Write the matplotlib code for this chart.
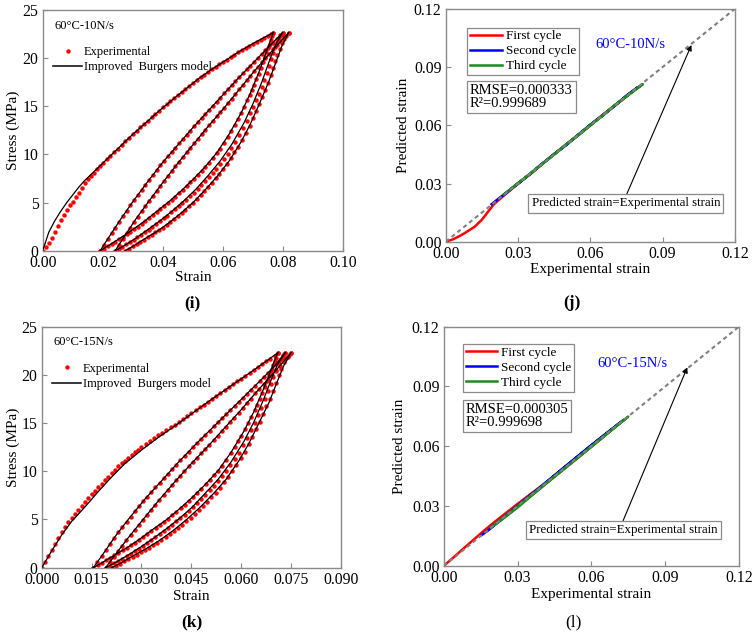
import matplotlib
matplotlib.use('Agg')
import matplotlib.pyplot as plt
from matplotlib.lines import Line2D

plt.rcParams['font.family'] = ['Liberation Serif', 'DejaVu Serif']

# ---------------- panel (i): 60°C-10N/s, stress-strain loops ----------------
# experimental points, one list pair per branch
i_load1_x = [0, 0.001, 0.002, 0.003, 0.004, 0.005, 0.006, 0.007, 0.008, 0.009, 0.010, 0.011,
             0.012, 0.013, 0.014, 0.015, 0.016, 0.017, 0.018, 0.019, 0.020, 0.02125, 0.0225,
             0.02375, 0.025, 0.02625, 0.0275, 0.02875, 0.030, 0.03125, 0.0325, 0.03375, 0.035,
             0.03625, 0.0375, 0.03875, 0.040, 0.04125, 0.0425, 0.04375, 0.045, 0.04625, 0.0475,
             0.04875, 0.050, 0.05125, 0.0525, 0.05375, 0.055, 0.05625, 0.0575, 0.05875, 0.060,
             0.06125, 0.0625, 0.06375, 0.065, 0.06625, 0.0675, 0.06875, 0.070, 0.07125, 0.0725,
             0.07375, 0.075, 0.0758, 0.0767]
i_load1_y = [0, 0.35, 0.8, 1.35, 1.9, 2.55, 3.2, 3.75, 4.25, 4.7, 5.1, 5.6,
             6.0, 6.5, 7.0, 7.4, 7.8, 8.1, 8.5, 8.8, 9.1, 9.48, 9.85,
             10.23, 10.6, 10.98, 11.35, 11.73, 12.1, 12.45, 12.8, 13.15, 13.5,
             13.85, 14.2, 14.55, 14.9, 15.2, 15.5, 15.83, 16.15, 16.48, 16.8,
             17.1, 17.4, 17.7, 18.0, 18.28, 18.55, 18.83, 19.1, 19.35, 19.6,
             19.85, 20.1, 20.35, 20.6, 20.83, 21.05, 21.28, 21.5, 21.7, 21.9,
             22.13, 22.35, 22.5, 22.65]
i_unl1_x = [0.0191, 0.0204, 0.0216, 0.0229, 0.0241, 0.0254, 0.0266, 0.0279, 0.0291, 0.0304,
            0.0316, 0.0329, 0.0341, 0.0354, 0.0366, 0.0379, 0.0391, 0.0404, 0.0416, 0.0429,
            0.0441, 0.0454, 0.0466, 0.0479, 0.0491, 0.0504, 0.0516, 0.0529, 0.0541, 0.0554,
            0.0566, 0.0579, 0.0591, 0.0604, 0.0616, 0.0628, 0.064, 0.065, 0.066, 0.067,
            0.068, 0.0688, 0.0695, 0.0703, 0.071, 0.0718, 0.0725, 0.0732, 0.0738, 0.0744,
            0.075, 0.0755, 0.0759, 0.0763, 0.0767]
i_unl1_y = [0, 0.22, 0.45, 0.7, 0.95, 1.2, 1.45, 1.7, 1.95, 2.22,
            2.5, 2.8, 3.1, 3.4, 3.7, 4.02, 4.35, 4.65, 4.95, 5.28,
            5.6, 5.98, 6.35, 6.72, 7.1, 7.48, 7.85, 8.28, 8.7, 9.15,
            9.6, 10.1, 10.6, 11.2, 11.8, 12.45, 13.1, 13.7, 14.3, 14.95,
            15.6, 16.15, 16.7, 17.25, 17.8, 18.4, 19.0, 19.55, 20.1, 20.6,
            21.1, 21.5, 21.9, 22.3, 22.65]
i_rel2_x = [0.0191, 0.0204, 0.0216, 0.0229, 0.0241, 0.0254, 0.0266, 0.0279, 0.0291, 0.0304,
            0.0316, 0.0329, 0.0341, 0.0354, 0.0366, 0.0379, 0.0391, 0.0404, 0.0416, 0.0429,
            0.0441, 0.0454, 0.0466, 0.0479, 0.0491, 0.0504, 0.0516, 0.0529, 0.0541, 0.0554,
            0.0566, 0.0579, 0.0591, 0.0604, 0.0616, 0.0629, 0.0641, 0.0654, 0.0666, 0.0679,
            0.0691, 0.0704, 0.0716, 0.0729, 0.0741, 0.0754, 0.0766, 0.0779, 0.0791, 0.0798]
i_rel2_y = [0, 0.62, 1.2, 1.83, 2.4, 3.0, 3.57, 4.15, 4.7, 5.27,
            5.8, 6.33, 6.83, 7.35, 7.85, 8.35, 8.85, 9.35, 9.8, 10.27,
            10.7, 11.15, 11.58, 12.03, 12.45, 12.9, 13.33, 13.75, 14.17, 14.62,
            15.03, 15.47, 15.88, 16.33, 16.75, 17.18, 17.6, 18.05, 18.45, 18.85,
            19.22, 19.63, 20.0, 20.43, 20.82, 21.22, 21.6, 22.0, 22.4, 22.65]
i_unl2_x = [0.0241, 0.0253, 0.0265, 0.0278, 0.029, 0.0303, 0.0315, 0.0328, 0.034, 0.0353,
            0.0365, 0.0378, 0.039, 0.0403, 0.0415, 0.0428, 0.044, 0.0453, 0.0465, 0.0478,
            0.049, 0.0503, 0.0515, 0.0528, 0.054, 0.0553, 0.0565, 0.0578, 0.059, 0.0603,
            0.0615, 0.0628, 0.064, 0.0653, 0.0665, 0.0678, 0.069, 0.070, 0.071, 0.0719,
            0.0728, 0.0737, 0.0745, 0.0753, 0.076, 0.0767, 0.0773, 0.078, 0.0786, 0.0792, 0.0798]
i_unl2_y = [0, 0.2, 0.4, 0.65, 0.9, 1.15, 1.4, 1.65, 1.9, 2.17,
            2.45, 2.75, 3.05, 3.35, 3.65, 3.98, 4.3, 4.62, 4.95, 5.3,
            5.65, 6.02, 6.4, 6.8, 7.2, 7.62, 8.05, 8.52, 9.0, 9.52,
            10.05, 10.65, 11.3, 12.0, 12.7, 13.5, 14.3, 14.95, 15.6, 16.3,
            17.0, 17.75, 18.5, 19.2, 19.9, 20.55, 21.2, 21.7, 22.1, 22.4, 22.65]
i_rel3_x = [0.0241, 0.0254, 0.0266, 0.0279, 0.0291, 0.0304, 0.0316, 0.0329, 0.0341, 0.0354,
            0.0366, 0.0379, 0.0391, 0.0404, 0.0416, 0.0429, 0.0441, 0.0454, 0.0466, 0.0479,
            0.0491, 0.0504, 0.0516, 0.0529, 0.0541, 0.0554, 0.0566, 0.0579, 0.0591, 0.0604,
            0.0616, 0.0629, 0.0641, 0.0654, 0.0666, 0.0679, 0.0691, 0.0704, 0.0716, 0.0729,
            0.0741, 0.0754, 0.0766, 0.0779, 0.0791, 0.0804, 0.0818]
i_rel3_y = [0, 0.62, 1.2, 1.83, 2.4, 2.98, 3.55, 4.1, 4.62, 5.17,
            5.68, 6.2, 6.7, 7.25, 7.75, 8.25, 8.75, 9.25, 9.72, 10.2,
            10.65, 11.15, 11.6, 12.1, 12.55, 13.05, 13.5, 13.95, 14.4, 14.85,
            15.3, 15.8, 16.25, 16.75, 17.2, 17.7, 18.15, 18.65, 19.1, 19.55,
            20.0, 20.45, 20.9, 21.35, 21.75, 22.2, 22.65]
i_unl3_x = [0.0274, 0.0287, 0.030, 0.0313, 0.0325, 0.0338, 0.035, 0.0363, 0.0375, 0.0388,
            0.040, 0.0413, 0.0425, 0.0438, 0.045, 0.0463, 0.0475, 0.0488, 0.050, 0.0513,
            0.0525, 0.0538, 0.055, 0.0563, 0.0575, 0.0588, 0.060, 0.0613, 0.0625, 0.0638,
            0.065, 0.0663, 0.0675, 0.0688, 0.070, 0.071, 0.072, 0.073, 0.074, 0.0749,
            0.0758, 0.0766, 0.0774, 0.0781, 0.0788, 0.0796, 0.0803, 0.0811, 0.0818]
i_unl3_y = [0, 0.22, 0.45, 0.67, 0.9, 1.15, 1.4, 1.65, 1.9, 2.15,
            2.4, 2.7, 3.0, 3.3, 3.6, 3.92, 4.25, 4.6, 4.95, 5.35,
            5.75, 6.17, 6.6, 7.05, 7.5, 8.0, 8.5, 9.05, 9.6, 10.2,
            10.8, 11.5, 12.2, 13.0, 13.8, 14.5, 15.2, 15.95, 16.7, 17.45,
            18.2, 18.95, 19.7, 20.35, 21.0, 21.55, 22.0, 22.35, 22.65]

# improved Burgers model
i_mod_load1_x = [0, 0.002, 0.004, 0.006, 0.008, 0.010, 0.012, 0.014, 0.016, 0.018, 0.020, 0.023,
                 0.026, 0.030, 0.034, 0.039, 0.044, 0.048, 0.052, 0.057, 0.062, 0.066, 0.071, 0.0767]
i_mod_load1_y = [0, 1.9, 3.1, 4.1, 5.0, 5.8, 6.6, 7.3, 7.9, 8.5, 9.1, 10.0,
                 10.9, 12.1, 13.2, 14.6, 15.9, 16.9, 17.9, 19.0, 20.0, 20.8, 21.7, 22.65]
i_mod_unl1_x = [0.0191, 0.022, 0.026, 0.030, 0.034, 0.038, 0.042, 0.046, 0.050, 0.054, 0.058,
                0.062, 0.066, 0.069, 0.072, 0.074, 0.0755, 0.0767]
i_mod_unl1_y = [0, 0.55, 1.35, 2.2, 3.1, 4.1, 5.1, 6.2, 7.4, 8.7, 10.2,
                12.1, 14.3, 16.3, 18.6, 20.3, 21.6, 22.65]
i_mod_rel2_x = [0.0191, 0.022, 0.026, 0.030, 0.035, 0.040, 0.045, 0.050, 0.055, 0.060, 0.065,
                0.070, 0.075, 0.0798]
i_mod_rel2_y = [0, 1.4, 3.3, 5.1, 7.2, 9.2, 11.0, 12.8, 14.5, 16.2, 17.9, 19.5, 21.1, 22.65]
i_mod_unl2_x = [0.0241, 0.027, 0.031, 0.035, 0.039, 0.043, 0.047, 0.051, 0.055, 0.059, 0.063,
                0.067, 0.070, 0.073, 0.0755, 0.0775, 0.0798]
i_mod_unl2_y = [0, 0.5, 1.3, 2.2, 3.1, 4.1, 5.2, 6.4, 7.8, 9.3, 11.1,
                13.3, 15.3, 17.6, 19.8, 21.4, 22.65]
i_mod_rel3_x = [0.0241, 0.027, 0.031, 0.035, 0.040, 0.045, 0.050, 0.055, 0.060, 0.065, 0.070,
                0.075, 0.0818]
i_mod_rel3_y = [0, 1.4, 3.3, 5.0, 7.1, 9.1, 11.0, 12.9, 14.7, 16.6, 18.5, 20.3, 22.65]
i_mod_unl3_x = [0.0274, 0.030, 0.034, 0.038, 0.042, 0.046, 0.050, 0.054, 0.058, 0.062, 0.066,
                0.069, 0.072, 0.075, 0.0775, 0.0795, 0.0818]
i_mod_unl3_y = [0, 0.45, 1.25, 2.0, 2.9, 3.9, 5.0, 6.3, 7.7, 9.3, 11.3,
                13.1, 15.2, 17.4, 19.5, 21.2, 22.65]

# ---------------- panel (k): 60°C-15N/s, stress-strain loops ----------------
k_load1_x = [0, 0.001, 0.002, 0.003, 0.004, 0.005, 0.006, 0.007, 0.008, 0.009, 0.010, 0.011,
             0.012, 0.013, 0.014, 0.015, 0.016, 0.017, 0.018, 0.019, 0.020, 0.021, 0.022, 0.023,
             0.024, 0.025, 0.026, 0.027, 0.028, 0.029, 0.030, 0.03125, 0.0325, 0.03375, 0.035,
             0.03625, 0.0375, 0.03875, 0.040, 0.04125, 0.0425, 0.04375, 0.045, 0.04625, 0.0475,
             0.04875, 0.050, 0.05125, 0.0525, 0.05375, 0.055, 0.05625, 0.0575, 0.05875, 0.060,
             0.06125, 0.0625, 0.06375, 0.065, 0.06625, 0.0675, 0.06875, 0.070, 0.071]
k_load1_y = [0, 0.62, 1.25, 1.88, 2.5, 3.1, 3.7, 4.22, 4.72, 5.15, 5.58, 6.0,
             6.4, 6.8, 7.2, 7.6, 7.98, 8.35, 8.72, 9.1, 9.45, 9.8, 10.15, 10.5,
             10.82, 11.12, 11.42, 11.7, 11.98, 12.25, 12.5, 12.82, 13.12, 13.42, 13.72,
             14.0, 14.28, 14.55, 14.82, 15.12, 15.42, 15.72, 16.02, 16.33, 16.63,
             16.93, 17.23, 17.53, 17.83, 18.12, 18.42, 18.72, 19.02, 19.32, 19.62,
             19.92, 20.22, 20.52, 20.82, 21.1, 21.4, 21.7, 22.0, 22.3]
k_unl1_x = [0.0155, 0.0168, 0.018, 0.0193, 0.0205, 0.0218, 0.023, 0.0243, 0.0255, 0.0268,
            0.028, 0.0293, 0.0305, 0.0318, 0.033, 0.0343, 0.0355, 0.0368, 0.038, 0.0393,
            0.0405, 0.0418, 0.043, 0.0443, 0.0455, 0.0468, 0.048, 0.0493, 0.0505, 0.0518,
            0.053, 0.0543, 0.0555, 0.0568, 0.058, 0.059, 0.060, 0.061, 0.062, 0.063,
            0.064, 0.0648, 0.0655, 0.0663, 0.067, 0.0677, 0.0683, 0.0689, 0.0695, 0.070,
            0.0705, 0.0710]
k_unl1_y = [0, 0.25, 0.5, 0.75, 1.0, 1.27, 1.55, 1.8, 2.05, 2.32,
            2.6, 2.9, 3.2, 3.52, 3.85, 4.15, 4.45, 4.77, 5.1, 5.45,
            5.8, 6.17, 6.55, 6.95, 7.35, 7.77, 8.2, 8.65, 9.1, 9.57,
            10.05, 10.6, 11.2, 11.85, 12.5, 13.1, 13.7, 14.35, 15.0, 15.67,
            16.35, 16.9, 17.5, 18.12, 18.75, 19.32, 19.9, 20.45, 21.0, 21.4,
            21.8, 22.3]
k_rel2_x = [0.0155, 0.0167, 0.018, 0.0192, 0.0205, 0.0217, 0.023, 0.0242, 0.0255, 0.0267,
            0.028, 0.0292, 0.0305, 0.0317, 0.033, 0.0342, 0.0355, 0.0367, 0.038, 0.0392,
            0.0405, 0.0417, 0.043, 0.0442, 0.0455, 0.0467, 0.048, 0.0492, 0.0505, 0.0517,
            0.053, 0.0542, 0.0555, 0.0567, 0.058, 0.0592, 0.0605, 0.0617, 0.063, 0.0642,
            0.0655, 0.0667, 0.068, 0.0692, 0.0705, 0.0717, 0.0725, 0.0732]
k_rel2_y = [0, 0.58, 1.2, 1.8, 2.45, 3.05, 3.68, 4.22, 4.78, 5.3,
            5.85, 6.35, 6.9, 7.38, 7.87, 8.32, 8.8, 9.27, 9.77, 10.22,
            10.7, 11.15, 11.62, 12.05, 12.52, 12.94, 13.38, 13.8, 14.23, 14.65,
            15.08, 15.5, 15.93, 16.35, 16.78, 17.2, 17.63, 18.05, 18.48, 18.9,
            19.33, 19.74, 20.2, 20.62, 21.1, 21.55, 21.9, 22.3]
k_unl2_x = [0.0192, 0.0205, 0.0217, 0.023, 0.0242, 0.0255, 0.0267, 0.028, 0.0292, 0.0305,
            0.0317, 0.033, 0.0342, 0.0355, 0.0367, 0.038, 0.0392, 0.0405, 0.0417, 0.043,
            0.0442, 0.0455, 0.0467, 0.048, 0.0492, 0.0505, 0.0517, 0.053, 0.0542, 0.0555,
            0.0567, 0.058, 0.0592, 0.0605, 0.0617, 0.063, 0.064, 0.065, 0.066, 0.067,
            0.068, 0.0688, 0.0696, 0.0704, 0.0712, 0.0719, 0.0726, 0.0732]
k_unl2_y = [0, 0.22, 0.44, 0.68, 0.92, 1.17, 1.42, 1.7, 1.98, 2.27,
            2.56, 2.86, 3.15, 3.47, 3.78, 4.12, 4.45, 4.8, 5.13, 5.5,
            5.87, 6.27, 6.68, 7.12, 7.57, 8.05, 8.5, 9.0, 9.5, 10.05,
            10.62, 11.3, 11.95, 12.7, 13.45, 14.3, 15.0, 15.8, 16.6, 17.45,
            18.3, 19.05, 19.8, 20.5, 21.2, 21.7, 22.05, 22.3]
k_rel3_x = [0.0192, 0.0204, 0.0217, 0.0229, 0.0242, 0.0254, 0.0267, 0.0279, 0.0292, 0.0304,
            0.0317, 0.0329, 0.0342, 0.0354, 0.0367, 0.0379, 0.0392, 0.0404, 0.0417, 0.0429,
            0.0442, 0.0454, 0.0467, 0.0479, 0.0492, 0.0504, 0.0517, 0.0529, 0.0542, 0.0554,
            0.0567, 0.0579, 0.0592, 0.0604, 0.0617, 0.0629, 0.0642, 0.0654, 0.0667, 0.0679,
            0.0692, 0.0704, 0.0717, 0.0729, 0.074, 0.075]
k_rel3_y = [0, 0.57, 1.15, 1.72, 2.3, 2.85, 3.42, 3.92, 4.45, 4.97,
            5.5, 6.02, 6.55, 7.05, 7.58, 8.05, 8.57, 9.05, 9.55, 10.02,
            10.5, 10.97, 11.43, 11.87, 12.32, 12.75, 13.23, 13.68, 14.15, 14.62,
            15.1, 15.57, 16.08, 16.55, 17.08, 17.55, 18.08, 18.55, 19.05, 19.5,
            20.0, 20.45, 20.95, 21.45, 21.9, 22.3]
k_unl3_x = [0.021, 0.0223, 0.0235, 0.0248, 0.026, 0.0273, 0.0285, 0.0298, 0.031, 0.0323,
            0.0335, 0.0348, 0.036, 0.0373, 0.0385, 0.0398, 0.041, 0.0423, 0.0435, 0.0448,
            0.046, 0.0473, 0.0485, 0.0498, 0.051, 0.0523, 0.0535, 0.0548, 0.056, 0.0573,
            0.0585, 0.0598, 0.061, 0.0622, 0.0633, 0.0644, 0.0655, 0.0665, 0.0675, 0.0685,
            0.0694, 0.0703, 0.0712, 0.072, 0.0728, 0.0736, 0.0743, 0.0750]
k_unl3_y = [0, 0.22, 0.43, 0.65, 0.88, 1.12, 1.35, 1.58, 1.82, 2.07,
            2.33, 2.6, 2.87, 3.17, 3.47, 3.8, 4.12, 4.47, 4.82, 5.2,
            5.58, 6.0, 6.4, 6.85, 7.3, 7.8, 8.3, 8.85, 9.4, 10.02,
            10.65, 11.35, 12.05, 12.8, 13.55, 14.35, 15.15, 15.95, 16.75, 17.55,
            18.35, 19.15, 19.95, 20.65, 21.3, 21.8, 22.1, 22.3]

k_mod_load1_x = [0, 0.003, 0.006, 0.009, 0.013, 0.017, 0.021, 0.025, 0.030, 0.035, 0.040,
                 0.045, 0.050, 0.055, 0.060, 0.065, 0.071]
k_mod_load1_y = [0, 1.75, 3.4, 4.8, 6.3, 7.9, 9.4, 10.8, 12.2, 13.5, 14.7,
                 15.95, 17.2, 18.4, 19.6, 20.8, 22.3]
k_mod_unl1_x = [0.0155, 0.0183, 0.0221, 0.0260, 0.0298, 0.0337, 0.0376, 0.0414, 0.0453, 0.0491,
                0.0530, 0.0568, 0.0607, 0.0636, 0.0664, 0.0684, 0.0698, 0.0710]
k_mod_unl1_y = [0, 0.55, 1.35, 2.15, 3.05, 4.05, 5.0, 6.1, 7.3, 8.6,
                10.05, 11.9, 14.1, 16.05, 18.3, 20.0, 21.3, 22.3]
k_mod_rel2_x = [0.0155, 0.018, 0.022, 0.026, 0.031, 0.036, 0.041, 0.046, 0.051, 0.056, 0.061,
                0.066, 0.070, 0.0732]
k_mod_rel2_y = [0, 1.2, 3.2, 5.0, 7.1, 9.0, 10.9, 12.7, 14.4, 16.1, 17.8, 19.5, 20.9, 22.3]
k_mod_unl2_x = [0.0192, 0.0220, 0.0259, 0.0298, 0.0336, 0.0375, 0.0414, 0.0453, 0.0491, 0.0530,
                0.0569, 0.0608, 0.0637, 0.0666, 0.0690, 0.0709, 0.0732]
k_mod_unl2_y = [0, 0.5, 1.3, 2.15, 3.05, 4.05, 5.1, 6.3, 7.7, 9.15,
                10.95, 13.1, 15.05, 17.35, 19.5, 21.1, 22.3]
k_mod_rel3_x = [0.0192, 0.022, 0.026, 0.030, 0.035, 0.040, 0.045, 0.050, 0.055, 0.060, 0.065,
                0.070, 0.075]
k_mod_rel3_y = [0, 1.3, 3.1, 4.8, 6.9, 8.9, 10.8, 12.6, 14.5, 16.4, 18.4, 20.3, 22.3]
k_mod_unl3_x = [0.021, 0.0236, 0.0276, 0.0315, 0.0355, 0.0395, 0.0434, 0.0474, 0.0514, 0.0554,
                0.0593, 0.0623, 0.0653, 0.0683, 0.0707, 0.0727, 0.0750]
k_mod_unl3_y = [0, 0.45, 1.25, 2.0, 2.85, 3.85, 4.95, 6.2, 7.6, 9.15,
                11.1, 12.9, 15.0, 17.1, 19.2, 20.9, 22.3]

# ---------------- panel (j): predicted vs experimental strain, 10N/s ----------------
j_c1_exp = [0, 0.003, 0.0065, 0.009, 0.012, 0.015, 0.0176, 0.020, 0.025, 0.030, 0.040, 0.050,
            0.060, 0.070, 0.0767, 0.072, 0.065, 0.055, 0.045, 0.035, 0.025, 0.0191]
j_c1_pred = [0, 0.0012, 0.0034, 0.0053, 0.0077, 0.0113, 0.0155, 0.0193, 0.0247, 0.0299, 0.0401,
             0.0502, 0.0601, 0.0702, 0.0766, 0.0718, 0.0652, 0.0548, 0.0452, 0.0347, 0.0252, 0.0193]
j_c2_exp = [0.0191, 0.022, 0.025, 0.030, 0.035, 0.040, 0.045, 0.050, 0.055, 0.060, 0.065, 0.070,
            0.075, 0.0798, 0.075, 0.070, 0.060, 0.050, 0.040, 0.030, 0.0241]
j_c2_pred = [0.0193, 0.0222, 0.0249, 0.0302, 0.0348, 0.0401, 0.0452, 0.0499, 0.0551, 0.0602,
             0.0648, 0.0701, 0.0751, 0.0797, 0.0753, 0.0698, 0.0603, 0.0498, 0.0402, 0.0298, 0.0243]
j_c3_exp = [0.0241, 0.030, 0.035, 0.040, 0.045, 0.050, 0.055, 0.060, 0.065, 0.070, 0.075, 0.0818,
            0.076, 0.070, 0.060, 0.050, 0.040, 0.033, 0.0274]
j_c3_pred = [0.0243, 0.0301, 0.0349, 0.0401, 0.0449, 0.0502, 0.0549, 0.0601, 0.0649, 0.0702,
             0.0749, 0.0812, 0.0758, 0.0701, 0.0598, 0.0501, 0.0399, 0.0331, 0.0276]

# ---------------- panel (l): predicted vs experimental strain, 15N/s ----------------
l_c1_exp = [0, 0.004, 0.008, 0.012, 0.016, 0.020, 0.025, 0.030, 0.035, 0.040, 0.050, 0.060,
            0.071, 0.065, 0.055, 0.045, 0.035, 0.025, 0.0155]
l_c1_pred = [0, 0.0043, 0.0087, 0.0130, 0.0173, 0.0214, 0.0263, 0.0311, 0.0358, 0.0404, 0.0501,
             0.0601, 0.0712, 0.0648, 0.0547, 0.0447, 0.0348, 0.0248, 0.0156]
l_c2_exp = [0.0155, 0.018, 0.022, 0.030, 0.040, 0.050, 0.060, 0.0732, 0.066, 0.056, 0.046, 0.036,
            0.026, 0.0192]
l_c2_pred = [0.0156, 0.0178, 0.0218, 0.0301, 0.0402, 0.0505, 0.0606, 0.0733, 0.0664, 0.0565,
             0.0464, 0.0362, 0.0261, 0.0193]
l_c3_exp = [0.0192, 0.025, 0.030, 0.035, 0.045, 0.055, 0.065, 0.075, 0.068, 0.058, 0.048, 0.038,
            0.028, 0.021]
l_c3_pred = [0.0193, 0.0245, 0.0293, 0.0345, 0.0448, 0.0549, 0.0650, 0.0749, 0.0679, 0.0578,
             0.0478, 0.0379, 0.0279, 0.0211]

diag = [0, 0.12]

GRAY = '#8a8a8a'
RED = '#ff0000'
BLUE = '#0000ff'
GREEN = '#1a8c1a'


def style(ax, xticks, yticks, xfmt, yfmt):
    for sp in ax.spines.values():
        sp.set_color(GRAY)
        sp.set_linewidth(1.0)
    ax.tick_params(direction='in', length=3.5, width=0.8, color=GRAY,
                   labelsize=11.3, pad=3, top=False, right=False)
    ax.set_xticks(xticks)
    ax.set_yticks(yticks)
    ax.set_xticklabels([xfmt.format(v) for v in xticks])
    ax.set_yticklabels([yfmt.format(v) for v in yticks])
    ax.set_xlim(xticks[0], xticks[-1])
    ax.set_ylim(yticks[0], yticks[-1])


def loops(ax, exp, model, tag):
    for x, y in exp:
        ax.plot(x, y, ls='none', marker='o', ms=3.2, mew=0, color=RED, zorder=2)
    for x, y in model:
        ax.plot(x, y, color='k', lw=0.9, zorder=3)
    ax.text(0.04, 0.935, tag, transform=ax.transAxes, fontsize=9, va='center')
    handles = [Line2D([], [], ls='none', marker='o', ms=3.2, mew=0, color=RED),
               Line2D([], [], color='k', lw=1.1)]
    ax.legend(handles, ['Experimental', 'Improved  Burgers model'], loc='upper left',
              bbox_to_anchor=(0.035, 0.85), frameon=False, fontsize=9, borderpad=0,
              borderaxespad=0, handlelength=2.3, handletextpad=0.15, labelspacing=0.25,
              numpoints=1)
    ax.set_xlabel('Strain', fontsize=11)
    ax.set_ylabel('Stress (MPa)', fontsize=11)


def parity(ax, cycles, tag, rmse, r2, leg_xy, box_xy, text_xy, arrow_tip, arrow_tail):
    for (x, y), c, lab in zip(cycles, [RED, BLUE, GREEN],
                              ['First cycle', 'Second cycle', 'Third cycle']):
        ax.plot(x, y, color=c, lw=1.8, label=lab, zorder=2)
    ax.plot(diag, diag, color='#808080', lw=1.5, ls=(0, (2, 1.6)), zorder=3)
    leg = ax.legend(loc='upper left', bbox_to_anchor=leg_xy, fontsize=9.5,
                    fancybox=False, edgecolor=GRAY, framealpha=1, borderpad=0.2,
                    borderaxespad=0, handlelength=2.4, handletextpad=0.3,
                    labelspacing=0.2)
    leg.get_frame().set_linewidth(0.9)
    ax.text(box_xy[0], box_xy[1], 'RMSE=' + rmse + '\nR\u00b2=' + r2, transform=ax.transAxes,
            fontsize=10.5, va='center', ha='left', linespacing=1.0,
            bbox=dict(boxstyle='square,pad=0.2', fc='white', ec=GRAY, lw=0.9))
    ax.text(0.638, 0.847, tag, transform=ax.transAxes, color=BLUE, fontsize=10.5,
            ha='center', va='center')
    ax.annotate('', xy=arrow_tip, xytext=arrow_tail,
                arrowprops=dict(arrowstyle='-|>', color='k', lw=0.8, mutation_scale=8,
                                shrinkA=0, shrinkB=0), zorder=4)
    ax.text(text_xy[0], text_xy[1], 'Predicted strain=Experimental strain', fontsize=9.3,
            ha='center', va='center', zorder=5,
            bbox=dict(boxstyle='square,pad=0.25', fc='white', ec=GRAY, lw=0.9))
    ax.set_xlabel('Experimental strain', fontsize=11)
    ax.set_ylabel('Predicted strain', fontsize=11)


fig = plt.figure(figsize=(7.56, 6.36), dpi=100)

ax_i = fig.add_axes([0.0565, 0.6058, 0.3976, 0.3785])
ax_j = fig.add_axes([0.5896, 0.6200, 0.3823, 0.3659])
ax_k = fig.add_axes([0.0552, 0.1074, 0.3959, 0.3789])
ax_l = fig.add_axes([0.5869, 0.1101, 0.3906, 0.3763])

loops(ax_i,
      [(i_load1_x, i_load1_y), (i_unl1_x, i_unl1_y), (i_rel2_x, i_rel2_y),
       (i_unl2_x, i_unl2_y), (i_rel3_x, i_rel3_y), (i_unl3_x, i_unl3_y)],
      [(i_mod_load1_x, i_mod_load1_y), (i_mod_unl1_x, i_mod_unl1_y),
       (i_mod_rel2_x, i_mod_rel2_y), (i_mod_unl2_x, i_mod_unl2_y),
       (i_mod_rel3_x, i_mod_rel3_y), (i_mod_unl3_x, i_mod_unl3_y)],
      '60\u00b0C-10N/s')
style(ax_i, [0, 0.02, 0.04, 0.06, 0.08, 0.10], [0, 5, 10, 15, 20, 25], '{:.2f}', '{:.0f}')
ax_i.xaxis.set_label_coords(0.5, -0.084)
ax_i.yaxis.set_label_coords(-0.0765, 0.5)

loops(ax_k,
      [(k_load1_x, k_load1_y), (k_unl1_x, k_unl1_y), (k_rel2_x, k_rel2_y),
       (k_unl2_x, k_unl2_y), (k_rel3_x, k_rel3_y), (k_unl3_x, k_unl3_y)],
      [(k_mod_load1_x, k_mod_load1_y), (k_mod_unl1_x, k_mod_unl1_y),
       (k_mod_rel2_x, k_mod_rel2_y), (k_mod_unl2_x, k_mod_unl2_y),
       (k_mod_rel3_x, k_mod_rel3_y), (k_mod_unl3_x, k_mod_unl3_y)],
      '60\u00b0C-15N/s')
style(ax_k, [0, 0.015, 0.030, 0.045, 0.060, 0.075, 0.090], [0, 5, 10, 15, 20, 25],
      '{:.3f}', '{:.0f}')
ax_k.xaxis.set_label_coords(0.5, -0.0925)
ax_k.yaxis.set_label_coords(-0.0735, 0.5)

parity(ax_j, [(j_c1_exp, j_c1_pred), (j_c2_exp, j_c2_pred), (j_c3_exp, j_c3_pred)],
       '60\u00b0C-10N/s', '0.000333', '0.999689', (0.075, 0.92), (0.083, 0.621),
       (0.0748, 0.0198), (0.1020, 0.1014), (0.0750, 0.0241))
style(ax_j, [0, 0.03, 0.06, 0.09, 0.12], [0, 0.03, 0.06, 0.09, 0.12], '{:.2f}', '{:.2f}')
ax_j.xaxis.set_label_coords(0.5, -0.0915)
ax_j.yaxis.set_label_coords(-0.1235, 0.5)

parity(ax_l, [(l_c1_exp, l_c1_pred), (l_c2_exp, l_c2_pred), (l_c3_exp, l_c3_pred)],
       '60\u00b0C-15N/s', '0.000305', '0.999698', (0.0654, 0.9265), (0.074, 0.626),
       (0.0730, 0.0180), (0.0990, 0.0996), (0.0729, 0.0227))
style(ax_l, [0, 0.03, 0.06, 0.09, 0.12], [0, 0.03, 0.06, 0.09, 0.12], '{:.2f}', '{:.2f}')
ax_l.xaxis.set_label_coords(0.5, -0.092)
ax_l.yaxis.set_label_coords(-0.1287, 0.5)

# sub-figure captions
fig.text(192 / 756, 1 - 303 / 636, '(i)', fontsize=12.5, fontweight='bold', ha='center', va='center')
fig.text(572 / 756, 1 - 303 / 636, '(j)', fontsize=12.5, fontweight='bold', ha='center', va='center')
fig.text(192 / 756, 1 - 622 / 636, '(k)', fontsize=12.5, fontweight='bold', ha='center', va='center')
fig.text(573 / 756, 1 - 622 / 636, '(l)', fontsize=12.5, ha='center', va='center')

fig.savefig('out.png', dpi=100)
